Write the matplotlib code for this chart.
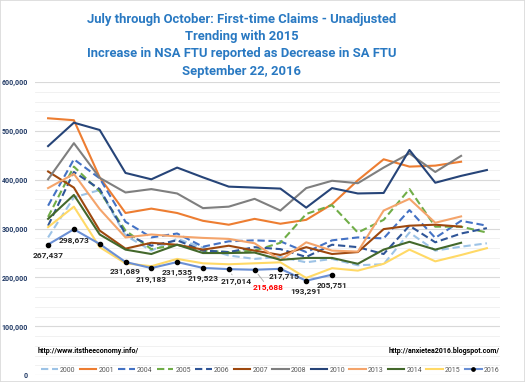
import matplotlib
matplotlib.use("Agg")
import matplotlib.pyplot as plt
from matplotlib.patches import Rectangle
from matplotlib.ticker import MultipleLocator, FuncFormatter

plt.rcParams["font.family"] = ["Roboto", "DejaVu Sans"]

# weeks July -> October (18 weekly points)
weeks = list(range(18))

s2000 = [282, 364, 379, 286, 255, 279, 261, 245, 238, 242, 231, 238, 225, 227, 292, 255, 263, 270]
s2001 = [526, 522, 405, 332, 341, 332, 316, 308, 320, 310, 318, 350, 399, 442, 427, 429, 437]
s2004 = [347, 442, 403, 314, 282, 290, 263, 274, 276, 274, 252, 276, 282, 280, 338, 281, 316, 306]
s2005 = [324, 427, 376, 296, 258, 267, 255, 252, 255, 271, 330, 348, 292, 318, 381, 304, 304, 292]
s2006 = [306, 416, 381, 289, 265, 276, 255, 252, 262, 258, 242, 267, 262, 248, 306, 272, 290, 301]
s2007 = [417, 384, 296, 259, 271, 267, 257, 265, 255, 246, 262, 248, 252, 299, 306, 308, 304]
s2008 = [401, 475, 404, 374, 381, 372, 342, 345, 361, 337, 383, 398, 393, 425, 454, 416, 449]
s2010 = [469, 517, 502, 414, 401, 425, 405, 386, 384, 382, 343, 383, 372, 373, 461, 394, 408, 420]
s2013 = [383, 412, 340, 282, 288, 284, 281, 279, 270, 235, 272, 255, 253, 337, 361, 312, 325]
s2014 = [320, 369, 288, 257, 248, 267, 250, 250, 251, 236, 240, 240, 228, 257, 273, 257, 271]
s2015 = [303, 345, 262, 229, 223, 238, 229, 227, 229, 231, 199, 219, 214, 228, 257, 233, 246, 260]
s2016 = [267437, 298673, 268500, 231689, 219183, 231535, 219523, 217014, 215688, 217715, 193291, 205751]

series = [
    ("2000", s2000, "#9DC3E6", "--"),
    ("2001", s2001, "#ED7D31", "-"),
    ("2004", s2004, "#4472C4", "--"),
    ("2005", s2005, "#70AD47", "--"),
    ("2006", s2006, "#2F5597", "--"),
    ("2007", s2007, "#9E480E", "-"),
    ("2008", s2008, "#7F7F7F", "-"),
    ("2010", s2010, "#264478", "-"),
    ("2013", s2013, "#F4A46B", "-"),
    ("2014", s2014, "#43682B", "-"),
    ("2015", s2015, "#FFD966", "-"),
]

fig = plt.figure(figsize=(5.25, 3.82), dpi=100)
ax = fig.add_axes([0.067, 0.018, 0.885, 0.767])

for name, vals, col, ls in series:
    ax.plot(weeks[:len(vals)], [v * 1000 for v in vals], color=col, ls=ls,
            lw=1.5, label=name, dashes=(3.5, 1.8) if ls == "--" else (None, None))

ax.plot(weeks[:len(s2016)], s2016, color="#6A8FD4", lw=1.5, marker="o",
        ms=3, mfc="black", mec="black", label="2016")

# data labels for 2016 (offsets in pixels)
offsets = [(0, -11), (0, -11), None, (0, -10), (0, -11), (0, -10), (0, -11),
           (7, -12), (14, -18), (4, -8), (0, -11), (0, -11)]
for i, (v, off) in enumerate(zip(s2016, offsets)):
    if off is None:
        continue
    col = "red" if i == 8 else "#262626"
    props = None
    if i in (7, 8):
        props = dict(arrowstyle="-", color="#A6A6A6", lw=0.6, shrinkA=0, shrinkB=4)
    ax.annotate(f"{v:,}", (i, v), xytext=off, textcoords="offset pixels",
                ha="center", va="center", fontsize=6, fontweight="bold",
                color=col, arrowprops=props)

ax.set_xlim(-0.5, 17.5)
ax.set_ylim(0, 600000)
ax.yaxis.set_major_locator(MultipleLocator(100000))
ax.yaxis.set_minor_locator(MultipleLocator(20000))
ax.yaxis.set_major_formatter(FuncFormatter(lambda v, p: f"{int(v):,}"))
ax.grid(axis="y", which="major", color="#D9D9D9", lw=0.8)
ax.grid(axis="y", which="minor", color="#EFEFEF", lw=0.6)
ax.set_axisbelow(True)
ax.set_xticks([])
ax.tick_params(axis="y", which="both", length=0, labelsize=5, labelcolor="#1F3864", pad=5)
for lbl in ax.get_yticklabels():
    lbl.set_fontweight("bold")
for sp in ax.spines.values():
    sp.set_visible(False)

fig.text(0.46, 0.966,
         "July through October: First-time Claims - Unadjusted\nTrending with 2015\n"
         "Increase in NSA FTU reported as Decrease in SA FTU\nSeptember 22, 2016",
         ha="center", va="top", fontsize=9.4, fontweight="bold", color="#2979C2",
         linespacing=1.42)

fig.text(0.072, 0.081, "http://www.itstheeconomy.info/", fontsize=5, fontweight="bold",
         va="center", ha="left")
fig.text(0.952, 0.081, "http://anxietea2016.blogspot.com/", fontsize=5, fontweight="bold",
         va="center", ha="right")

leg = fig.legend(loc="center", bbox_to_anchor=(0.515, 0.031), ncol=12, fontsize=5,
                 frameon=False, handlelength=2.4, handletextpad=0.3, columnspacing=0.6,
                 borderpad=0, borderaxespad=0, markerscale=0.8)
for t in leg.get_texts():
    t.set_color("#595959")

fig.patches.append(Rectangle((0, 0), 1, 1, transform=fig.transFigure, fill=False,
                             ec="#D9D9D9", lw=1.2))

fig.savefig("out.png", dpi=100)
